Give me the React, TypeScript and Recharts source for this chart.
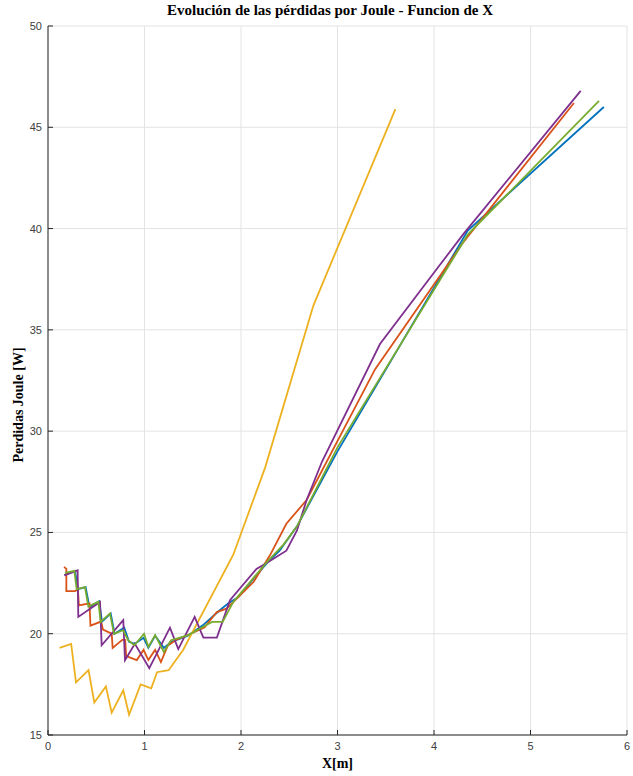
import { LineChart, Line, XAxis, YAxis, CartesianGrid } from 'recharts';

// Joule losses vs. position X, one series per case (MATLAB default colour order)
const X_BLUE = [0.17, 0.28, 0.31, 0.39, 0.43, 0.53, 0.56, 0.65, 0.69, 0.79, 0.84, 0.9, 0.99, 1.04, 1.11, 1.2, 1.28, 1.45, 1.6, 1.78, 1.87, 1.97, 2.27, 2.4, 2.58, 3.0, 4.35, 5.76];
const P_BLUE = [22.9, 23.1, 22.2, 22.3, 21.3, 21.6, 20.6, 21.0, 20.0, 20.3, 19.6, 19.5, 19.8, 19.3, 19.9, 19.3, 19.6, 19.9, 20.4, 21.16, 21.5, 21.8, 23.5, 24.1, 25.3, 29.0, 39.9, 46.0];

const X_ORANGE = [0.166, 0.19, 0.19, 0.28, 0.31, 0.32, 0.43, 0.44, 0.55, 0.57, 0.66, 0.67, 0.77, 0.8, 0.81, 0.92, 0.99, 1.04, 1.11, 1.17, 1.24, 1.33, 1.48, 1.62, 1.75, 1.85, 2.13, 2.3, 2.47, 2.68, 3.39, 4.3, 5.45];
const P_ORANGE = [23.3, 23.2, 22.1, 22.1, 22.2, 21.4, 21.5, 20.4, 20.6, 20.2, 20.0, 19.3, 19.7, 19.7, 18.9, 18.7, 19.2, 18.7, 19.2, 18.6, 19.4, 19.7, 20.0, 20.3, 21.07, 21.24, 22.55, 23.87, 25.43, 26.6, 33.06, 39.3, 46.2];

const X_YELLOW = [0.12, 0.24, 0.29, 0.42, 0.48, 0.6, 0.66, 0.78, 0.84, 0.96, 1.07, 1.13, 1.25, 1.4, 1.92, 2.25, 2.75, 3.6];
const P_YELLOW = [19.3, 19.5, 17.6, 18.2, 16.6, 17.4, 16.1, 17.2, 16.0, 17.5, 17.3, 18.1, 18.2, 19.2, 23.9, 28.2, 36.2, 45.9];

const X_PURPLE = [0.169, 0.307, 0.314, 0.539, 0.556, 0.78, 0.798, 0.9, 1.05, 1.264, 1.35, 1.52, 1.61, 1.75, 1.886, 2.16, 2.27, 2.47, 2.58, 2.68, 2.84, 3.44, 4.06, 4.3, 5.52];
const P_PURPLE = [22.88, 23.13, 20.83, 21.57, 19.43, 20.67, 18.69, 19.5, 18.3, 20.3, 19.24, 20.83, 19.81, 19.81, 21.65, 23.2, 23.5, 24.1, 25.1, 26.6, 28.5, 34.3, 38.2, 39.7, 46.8];

const X_GREEN = [0.176, 0.273, 0.297, 0.383, 0.418, 0.522, 0.546, 0.642, 0.684, 0.78, 0.83, 0.895, 0.995, 1.04, 1.11, 1.2, 1.275, 1.454, 1.575, 1.7, 1.81, 1.92, 2.28, 2.44, 2.58, 3.0, 4.35, 5.71];
const P_GREEN = [23.0, 23.1, 22.2, 22.3, 21.35, 21.57, 20.58, 21.0, 20.0, 20.17, 19.68, 19.43, 20.0, 19.35, 19.93, 19.1, 19.68, 19.93, 20.26, 20.58, 20.58, 21.57, 23.6, 24.4, 25.3, 29.2, 39.7, 46.3];

const X_TICKS = [0, 1, 2, 3, 4, 5, 6];
const Y_TICKS = [15, 20, 25, 30, 35, 40, 45, 50];

const toPoints = (xs: number[], ys: number[]) => xs.map((x, i) => ({ x, y: ys[i] }));

const series = [
  { name: 'blue', color: '#0072BD', data: toPoints(X_BLUE, P_BLUE) },
  { name: 'orange', color: '#D95319', data: toPoints(X_ORANGE, P_ORANGE) },
  { name: 'yellow', color: '#EDB120', data: toPoints(X_YELLOW, P_YELLOW) },
  { name: 'purple', color: '#7E2F8E', data: toPoints(X_PURPLE, P_PURPLE) },
  { name: 'green', color: '#77AC30', data: toPoints(X_GREEN, P_GREEN) },
];

const tickFont = '"Liberation Sans", Arial, sans-serif';
const axisColor = '#262626';

// MATLAB style: ticks point inward
function XTick({ x, y, payload }: any) {
  return (
    <g>
      <line x1={x} x2={x} y1={y} y2={y - 5} stroke={axisColor} />
      <text x={x} y={y + 15} textAnchor="middle" fill="#404040" fontSize={11} fontFamily={tickFont}>
        {payload.value}
      </text>
    </g>
  );
}

function YTick({ x, y, payload }: any) {
  return (
    <g>
      <line x1={x} x2={x + 5} y1={y} y2={y} stroke={axisColor} />
      <text x={x - 6} y={y + 4} textAnchor="end" fill="#404040" fontSize={11} fontFamily={tickFont}>
        {payload.value}
      </text>
    </g>
  );
}

const serif = '"Liberation Serif", "Times New Roman", serif';

export default function App() {
  return (
    <div style={{ position: 'absolute', left: 0, top: 0, width: 633, height: 776, background: '#fff' }}>
      <div
        style={{
          position: 'absolute', left: 30, width: 600, top: 2, textAlign: 'center',
          fontFamily: serif, fontWeight: 'bold', fontSize: 15, color: '#000',
        }}
      >
        Evolución de las pérdidas por Joule - Funcion de X
      </div>
      <LineChart
        width={633}
        height={776}
        data={series[0].data}
        margin={{ top: 26, right: 6, bottom: 11, left: 8 }}
      >
        <CartesianGrid stroke="#e3e3e3" />
        <XAxis
          dataKey="x"
          type="number"
          domain={[0, 6]}
          ticks={X_TICKS}
          height={30}
          stroke={axisColor}
          tickSize={0}
          tickMargin={0}
          tick={<XTick />}
          allowDuplicatedCategory={false}
        />
        <YAxis
          dataKey="y"
          type="number"
          domain={[15, 50]}
          ticks={Y_TICKS}
          width={40}
          stroke={axisColor}
          tickSize={0}
          tickMargin={0}
          tick={<YTick />}
        />
        {series.map((s) => (
          <Line
            key={s.name}
            data={s.data}
            dataKey="y"
            type="linear"
            stroke={s.color}
            strokeWidth={1.8}
            dot={false}
            activeDot={false}
            isAnimationActive={false}
          />
        ))}
      </LineChart>
      <div
        style={{
          position: 'absolute', left: 48, width: 579, top: 756, textAlign: 'center',
          fontFamily: serif, fontWeight: 'bold', fontSize: 14, color: '#000',
        }}
      >
        X[m]
      </div>
      <div
        style={{
          position: 'absolute', left: 19, top: 405, transform: 'translate(-50%, -50%) rotate(-90deg)',
          whiteSpace: 'nowrap', fontFamily: serif, fontWeight: 'bold', fontSize: 14, color: '#000',
        }}
      >
        Perdidas Joule [W]
      </div>
    </div>
  );
}
